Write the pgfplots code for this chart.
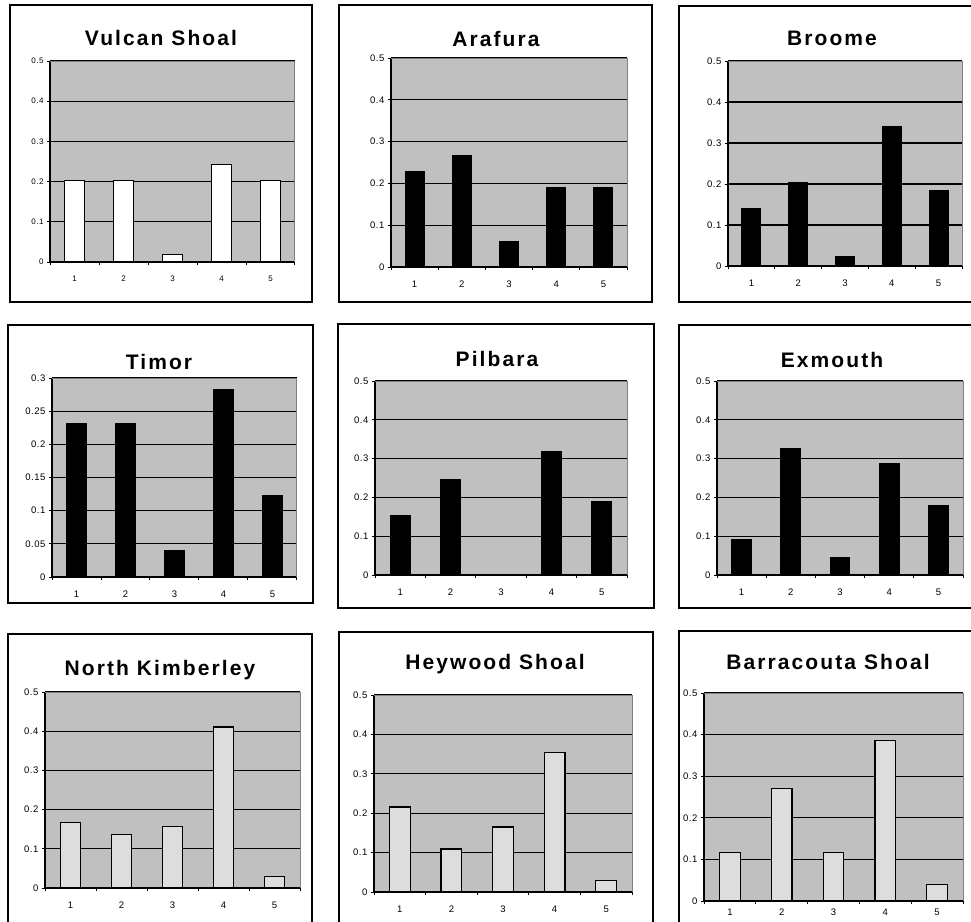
\documentclass[border=0pt]{standalone}
\usepackage{pgfplots}
\pgfplotsset{compat=1.18}
\usepackage{fontspec}
\setmainfont{Liberation Sans}
\newfontfamily\titlefam[LetterSpace=10]{Liberation Sans}
\newfontfamily\tickfam[LetterSpace=6]{Liberation Sans}
\definecolor{plotbg}{HTML}{C0C0C0}
\definecolor{lightbar}{HTML}{DDDDDD}
\definecolor{edgegray}{HTML}{808080}
\newcommand\ttl{\titlefam\bfseries\fontsize{21}{21}\selectfont}
\pgfplotsset{
 panel/.style={
  scale only axis, anchor=south west,
  xmin=0.5, xmax=5.5, ymin=0,
  axis x line*=bottom, axis y line*=left,
  axis line style={black, line width=1.1pt},
  axis background/.style={fill=plotbg},
  ymajorgrids, major grid style={black, line width=1.1pt},
  xtick={0.5,1.5,2.5,3.5,4.5,5.5},
  x tick label as interval,
  xticklabels={1,2,3,4,5},
  tick align=outside,
  major tick length=3pt,
  tick style={black, line width=1pt},
  scaled y ticks=false,
  /pgf/number format/assume math mode=true,
  yticklabel style={/pgf/number format/fixed, /pgf/number format/precision=2},
  ticklabel style={font=\tickfam\fontsize{9.5}{9.5}\selectfont},
  extra description/.code={\draw[edgegray, line width=1pt] (rel axis cs:0,1) -- (rel axis cs:1,1) -- (rel axis cs:1,0);},
  ybar, bar width=0.4,
 },
 y05/.style={ymax=0.5, ytick={0,0.1,0.2,0.3,0.4,0.5}},
 bars/.style={draw=black, line width=1.2pt, fill=#1},
}
\begin{document}
\begin{tikzpicture}
\useasboundingbox[fill=white] (0pt,0pt) rectangle (971pt,-921pt);
% panel boxes
\begin{scope}[line width=1.6pt]
\draw (10pt,-5pt) rectangle (312pt,-302pt);
\draw (339pt,-5pt) rectangle (652pt,-302pt);
\draw (679pt,-6pt) rectangle (980pt,-302pt);
\draw (8pt,-325pt) rectangle (313pt,-603pt);
\draw (338pt,-324pt) rectangle (654pt,-608pt);
\draw (679pt,-325pt) rectangle (980pt,-608pt);
\draw (8pt,-634pt) rectangle (312pt,-930pt);
\draw (339pt,-632pt) rectangle (653pt,-930pt);
\draw (679pt,-631pt) rectangle (980pt,-930pt);
\end{scope}
% titles
\node[font=\ttl, anchor=base] at (161pt,-45.7pt) {Vulcan Shoal};
\node[font=\ttl, anchor=base] at (496pt,-46.7pt) {Arafura};
\node[font=\ttl, anchor=base] at (832pt,-45.7pt) {Broome};
\node[font=\ttl, anchor=base] at (159pt,-369.3pt) {Timor};
\node[font=\ttl, anchor=base] at (497pt,-366pt) {Pilbara};
\node[font=\ttl, anchor=base] at (832pt,-367.7pt) {Exmouth};
\node[font=\ttl, anchor=base] at (160pt,-675pt) {North Kimberley};
\node[font=\ttl, anchor=base] at (495pt,-669.3pt) {Heywood Shoal};
\node[font=\ttl, anchor=base] at (828pt,-669.3pt) {Barracouta Shoal};

% 1 Vulcan Shoal
\begin{axis}[panel, y05, at={(50pt,-262pt)}, width=245pt, height=201pt,
  xticklabel style={yshift=-7pt},
  ticklabel style={font=\tickfam\fontsize{8}{8}\selectfont}]
\addplot[bars=white] coordinates {(1,0.202) (2,0.202) (3,0.019) (4,0.243) (5,0.202)};
\end{axis}
% 2 Arafura
\begin{axis}[panel, y05, at={(391pt,-267pt)}, width=236pt, height=209pt, xticklabel style={yshift=-7pt}]
\addplot[bars=black] coordinates {(1,0.228) (2,0.266) (3,0.06) (4,0.19) (5,0.19)};
\end{axis}
% 3 Broome
\begin{axis}[panel, y05, at={(728pt,-266pt)}, width=234pt, height=205pt, xticklabel style={yshift=-7pt}]
\addplot[bars=black] coordinates {(1,0.14) (2,0.203) (3,0.023) (4,0.341) (5,0.185)};
\end{axis}
% 4 Timor
\begin{axis}[panel, ymax=0.3, ytick={0,0.05,0.1,0.15,0.2,0.25,0.3}, at={(52pt,-577pt)}, width=245pt, height=199pt, xticklabel style={yshift=-7pt}]
\addplot[bars=black] coordinates {(1,0.231) (2,0.231) (3,0.04) (4,0.282) (5,0.122)};
\end{axis}
% 5 Pilbara
\begin{axis}[panel, y05, at={(375pt,-575pt)}, width=252pt, height=194pt, xticklabel style={yshift=-7pt}]
\addplot[bars=black] coordinates {(1,0.153) (2,0.245) (3,0) (4,0.317) (5,0.189)};
\end{axis}
% 6 Exmouth
\begin{axis}[panel, y05, at={(717pt,-575pt)}, width=246pt, height=194pt, xticklabel style={yshift=-7pt}]
\addplot[bars=black] coordinates {(1,0.09) (2,0.327) (3,0.044) (4,0.286) (5,0.178)};
\end{axis}
% 7 North Kimberley
\begin{axis}[panel, y05, at={(45pt,-888pt)}, width=255pt, height=196pt, xticklabel style={yshift=-7pt}]
\addplot[bars=lightbar] coordinates {(1,0.167) (2,0.136) (3,0.157) (4,0.411) (5,0.03)};
\end{axis}
% 8 Heywood Shoal
\begin{axis}[panel, y05, at={(374pt,-892pt)}, width=258pt, height=197pt, xticklabel style={yshift=-7pt}]
\addplot[bars=lightbar] coordinates {(1,0.216) (2,0.109) (3,0.165) (4,0.354) (5,0.029)};
\end{axis}
% 9 Barracouta Shoal
\begin{axis}[panel, y05, at={(704pt,-901pt)}, width=259pt, height=208pt,
  xticklabel style={yshift=-1.5pt}]
\addplot[bars=lightbar] coordinates {(1,0.116) (2,0.27) (3,0.116) (4,0.386) (5,0.039)};
\end{axis}
\end{tikzpicture}
\end{document}
